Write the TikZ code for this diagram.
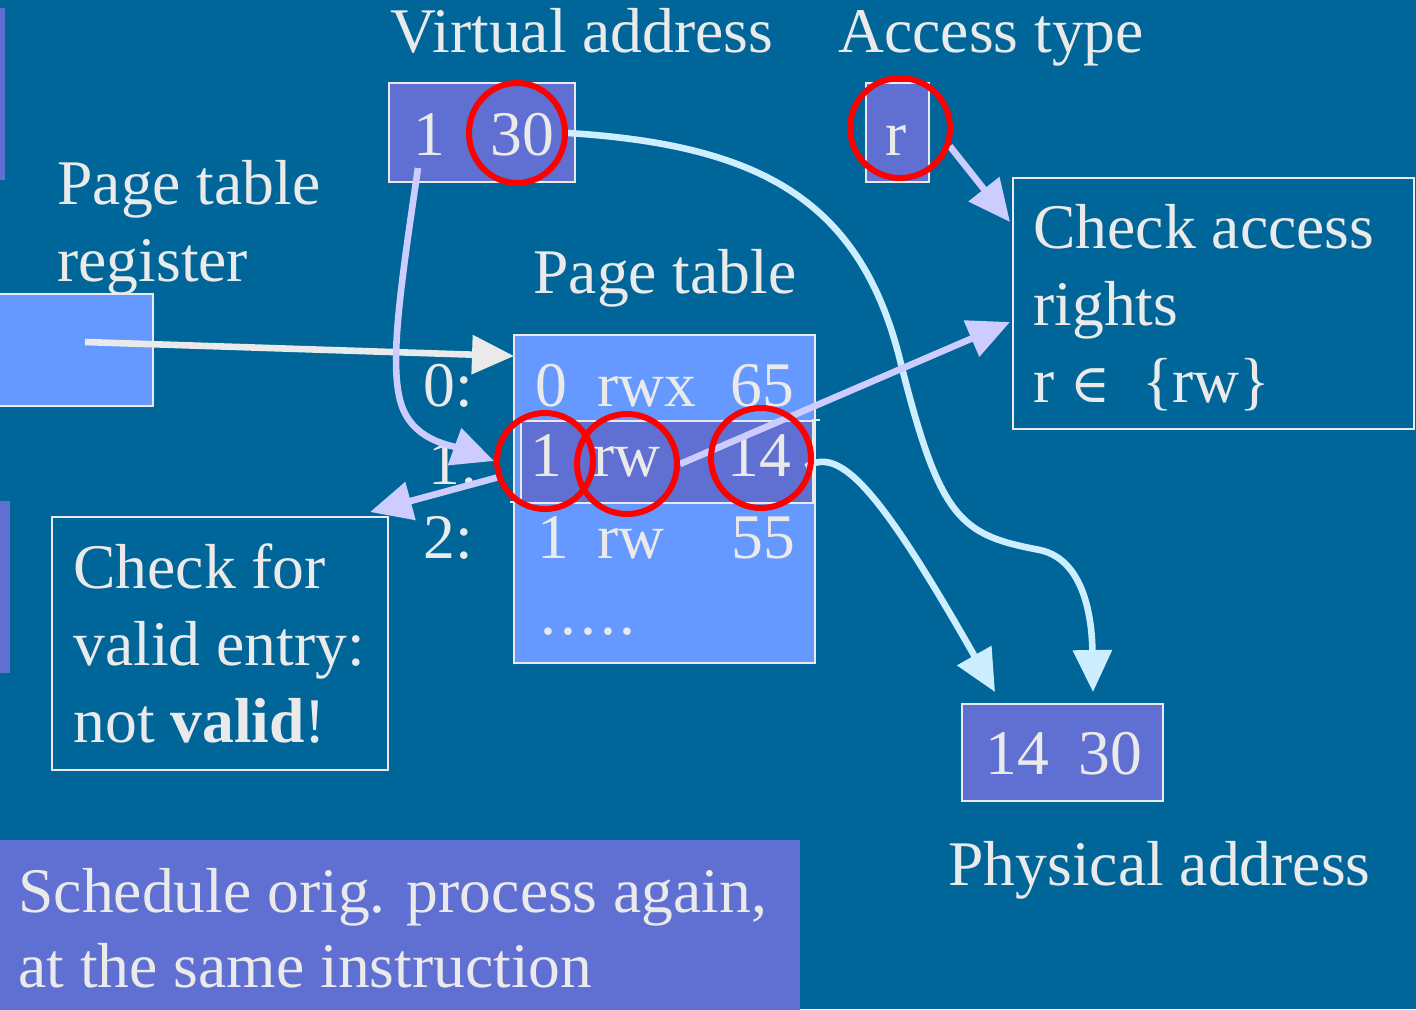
\documentclass[tikz,border=0pt]{standalone}
\usepackage{fontspec}
\setmainfont{Liberation Serif}
\newfontfamily\symfam{DejaVu Serif}
\usetikzlibrary{arrows.meta,shapes.geometric}
\definecolor{bg}{HTML}{006699}
\definecolor{pbox}{HTML}{5F6FD2}
\definecolor{lbox}{HTML}{6699FF}
\definecolor{tx}{HTML}{EAEAEA}
\definecolor{lav}{HTML}{CCCCFF}
\definecolor{cyanl}{HTML}{CCEEFF}
\pgfdeclarelayer{front}
\pgfsetlayers{main,front}
\begin{document}
\begin{tikzpicture}[x=0.5pt,y=-0.5pt,
  txt/.style={font=\fontsize{31.8}{39}\selectfont, text=tx, inner sep=0pt, anchor=base west},
  boxnode/.style={draw=tx, line width=1pt, inner sep=0pt, anchor=north west},
  ring/.style={ellipse, draw=red, line width=3pt, inner sep=0pt},
  tipstyle/.style={-{Triangle[length=21pt,width=19pt]}},
  lavarrow/.style={draw=lav, line width=3.3pt, tipstyle},
  cyanarrow/.style={draw=cyanl, line width=3.3pt, tipstyle},
  grayarrow/.style={draw=tx, line width=3.3pt, tipstyle}]
\useasboundingbox[fill=bg] (0,0) rectangle (1416,1009);
% side bars and bottom bar
\fill[pbox] (0,8) rectangle (5,180);
\fill[pbox] (0,501) rectangle (10,673);
\node[fill=pbox, inner sep=0pt, anchor=north west, minimum width=400pt, minimum height=85pt] (sched) at (0,840) {};
\node[txt] (sched1) at (18,912) {Schedule orig. process again,};
\node[txt] (sched2) at (18,987) {at the same instruction};
% titles
\node[txt] (vat) at (390,52) {Virtual address};
\node[txt] (att) at (838,52) {Access type};
\node[txt] (ptr1) at (57,204) {Page table};
\node[txt] (ptr2) at (57,281) {register};
\node[txt] (ptt) at (533,293) {Page table};
\node[txt] (pat) at (948,885) {Physical address};
% virtual address box
\node[boxnode, fill=pbox, minimum width=93pt, minimum height=49.5pt] (va) at (388,82) {};
\node[txt] (va1t) at (413,155) {1};
\node[txt] (va30t) at (490,155) {30};
% access type box
\node[boxnode, fill=pbox, minimum width=31.5pt, minimum height=49.5pt] (at) at (865,82) {};
\node[txt] (att1) at (885,155) {r};
% register box
\node[boxnode, fill=lbox, minimum width=78.5pt, minimum height=56pt] (reg) at (-5,293) {};
% page table
\node[boxnode, fill=lbox, minimum width=150.5pt, minimum height=164pt] (pt) at (513,334) {};
\node[boxnode, fill=pbox, minimum width=146pt, minimum height=41pt] (row1) at (520,420) {};
\draw[tx, line width=1pt] (812,420) -- (820,420);
\draw[tx, line width=1pt] (510,502) -- (520,502);
\node[txt] (l0) at (423,406) {0:};
\node[txt] (l1) at (428,484) {1:};
\node[txt] (l2) at (423,558) {2:};
\node[txt] (r0a) at (535,406) {0};
\node[txt] (r0b) at (597,406) {rwx};
\node[txt] (r0c) at (730,406) {65};
\node[txt] (r1a) at (530,476) {1};
\node[txt] (r1b) at (593,476) {rw};
\node[txt] (r1c) at (727,476) {14};
\node[txt] (r2a) at (537,558) {1};
\node[txt] (r2b) at (597,558) {rw};
\node[txt] (r2c) at (731,558) {55};
\node[txt] (dots) at (540,634) {.\kern2pt.\kern2pt.\kern2pt.\kern2pt.};
% check access box
\node[boxnode, minimum width=200.5pt, minimum height=125.5pt] (chk) at (1012,177) {};
\node[txt] (chk1) at (1033,248) {Check access};
\node[txt] (chk2) at (1033,325) {rights};
\node[txt] (chk3) at (1033,402) {r {\symfam\fontsize{27}{30}\selectfont ∈} \ \{rw\}};
% check valid box
\node[boxnode, minimum width=168pt, minimum height=126.5pt] (val) at (51,516) {};
\node[txt] (val1) at (73,588) {Check for};
\node[txt] (val2) at (73,665) {valid entry:};
\node[txt] (val3) at (73,742) {not \textbf{valid}!};
% physical address
\node[boxnode, fill=pbox, minimum width=100.5pt, minimum height=48.5pt] (phys) at (961,703) {};
\node[txt] (ph1) at (985,774) {14};
\node[txt] (ph2) at (1078,774) {30};
% red rings (front layer)
\begin{pgfonlayer}{front}
\node[ring, minimum width=48pt, minimum height=50pt] (c30) at (517,133) {};
\node[ring, minimum width=50pt, minimum height=50pt] (cr) at (900,128) {};
\node[ring, minimum width=48pt, minimum height=48pt] (c1) at (545,461) {};
\node[ring, minimum width=50pt, minimum height=50pt] (crw) at (627,464) {};
\node[ring, minimum width=50pt, minimum height=50pt] (c14) at (761,458) {};
\end{pgfonlayer}
% coordinates
\coordinate (regs) at (85,342);
\coordinate (ptin) at (514,356);
\coordinate (va1s) at (418,168);
\coordinate (chkin1) at (1010,222);
\coordinate (chkin2) at (1010,322);
\coordinate (valin) at (370,512);
\coordinate (c14out) at (806,467);
\coordinate (p14) at (995,692);
\coordinate (p30) at (1093,692);
% connectors
\draw[grayarrow] (regs) -- (ptin);
\draw[lavarrow] (va1s) .. controls (400,290) and (390,360) .. (400,400) .. controls (410,440) and (450,445) .. (c1.west);
\draw[cyanarrow] (c30.east) .. controls (760,145) and (860,200) .. (900,360) .. controls (940,520) and (960,535) .. (1040,550) .. controls (1085,560) and (1092,620) .. (p30);
\draw[cyanarrow] (c14out) .. controls (840,445) and (880,490) .. (p14);
\draw[lavarrow] (crw.east) -- (chkin2);
\draw[lavarrow] (cr.-20) -- (chkin1);
\draw[lavarrow] (c1.199) -- (valin);
\end{tikzpicture}
\end{document}
